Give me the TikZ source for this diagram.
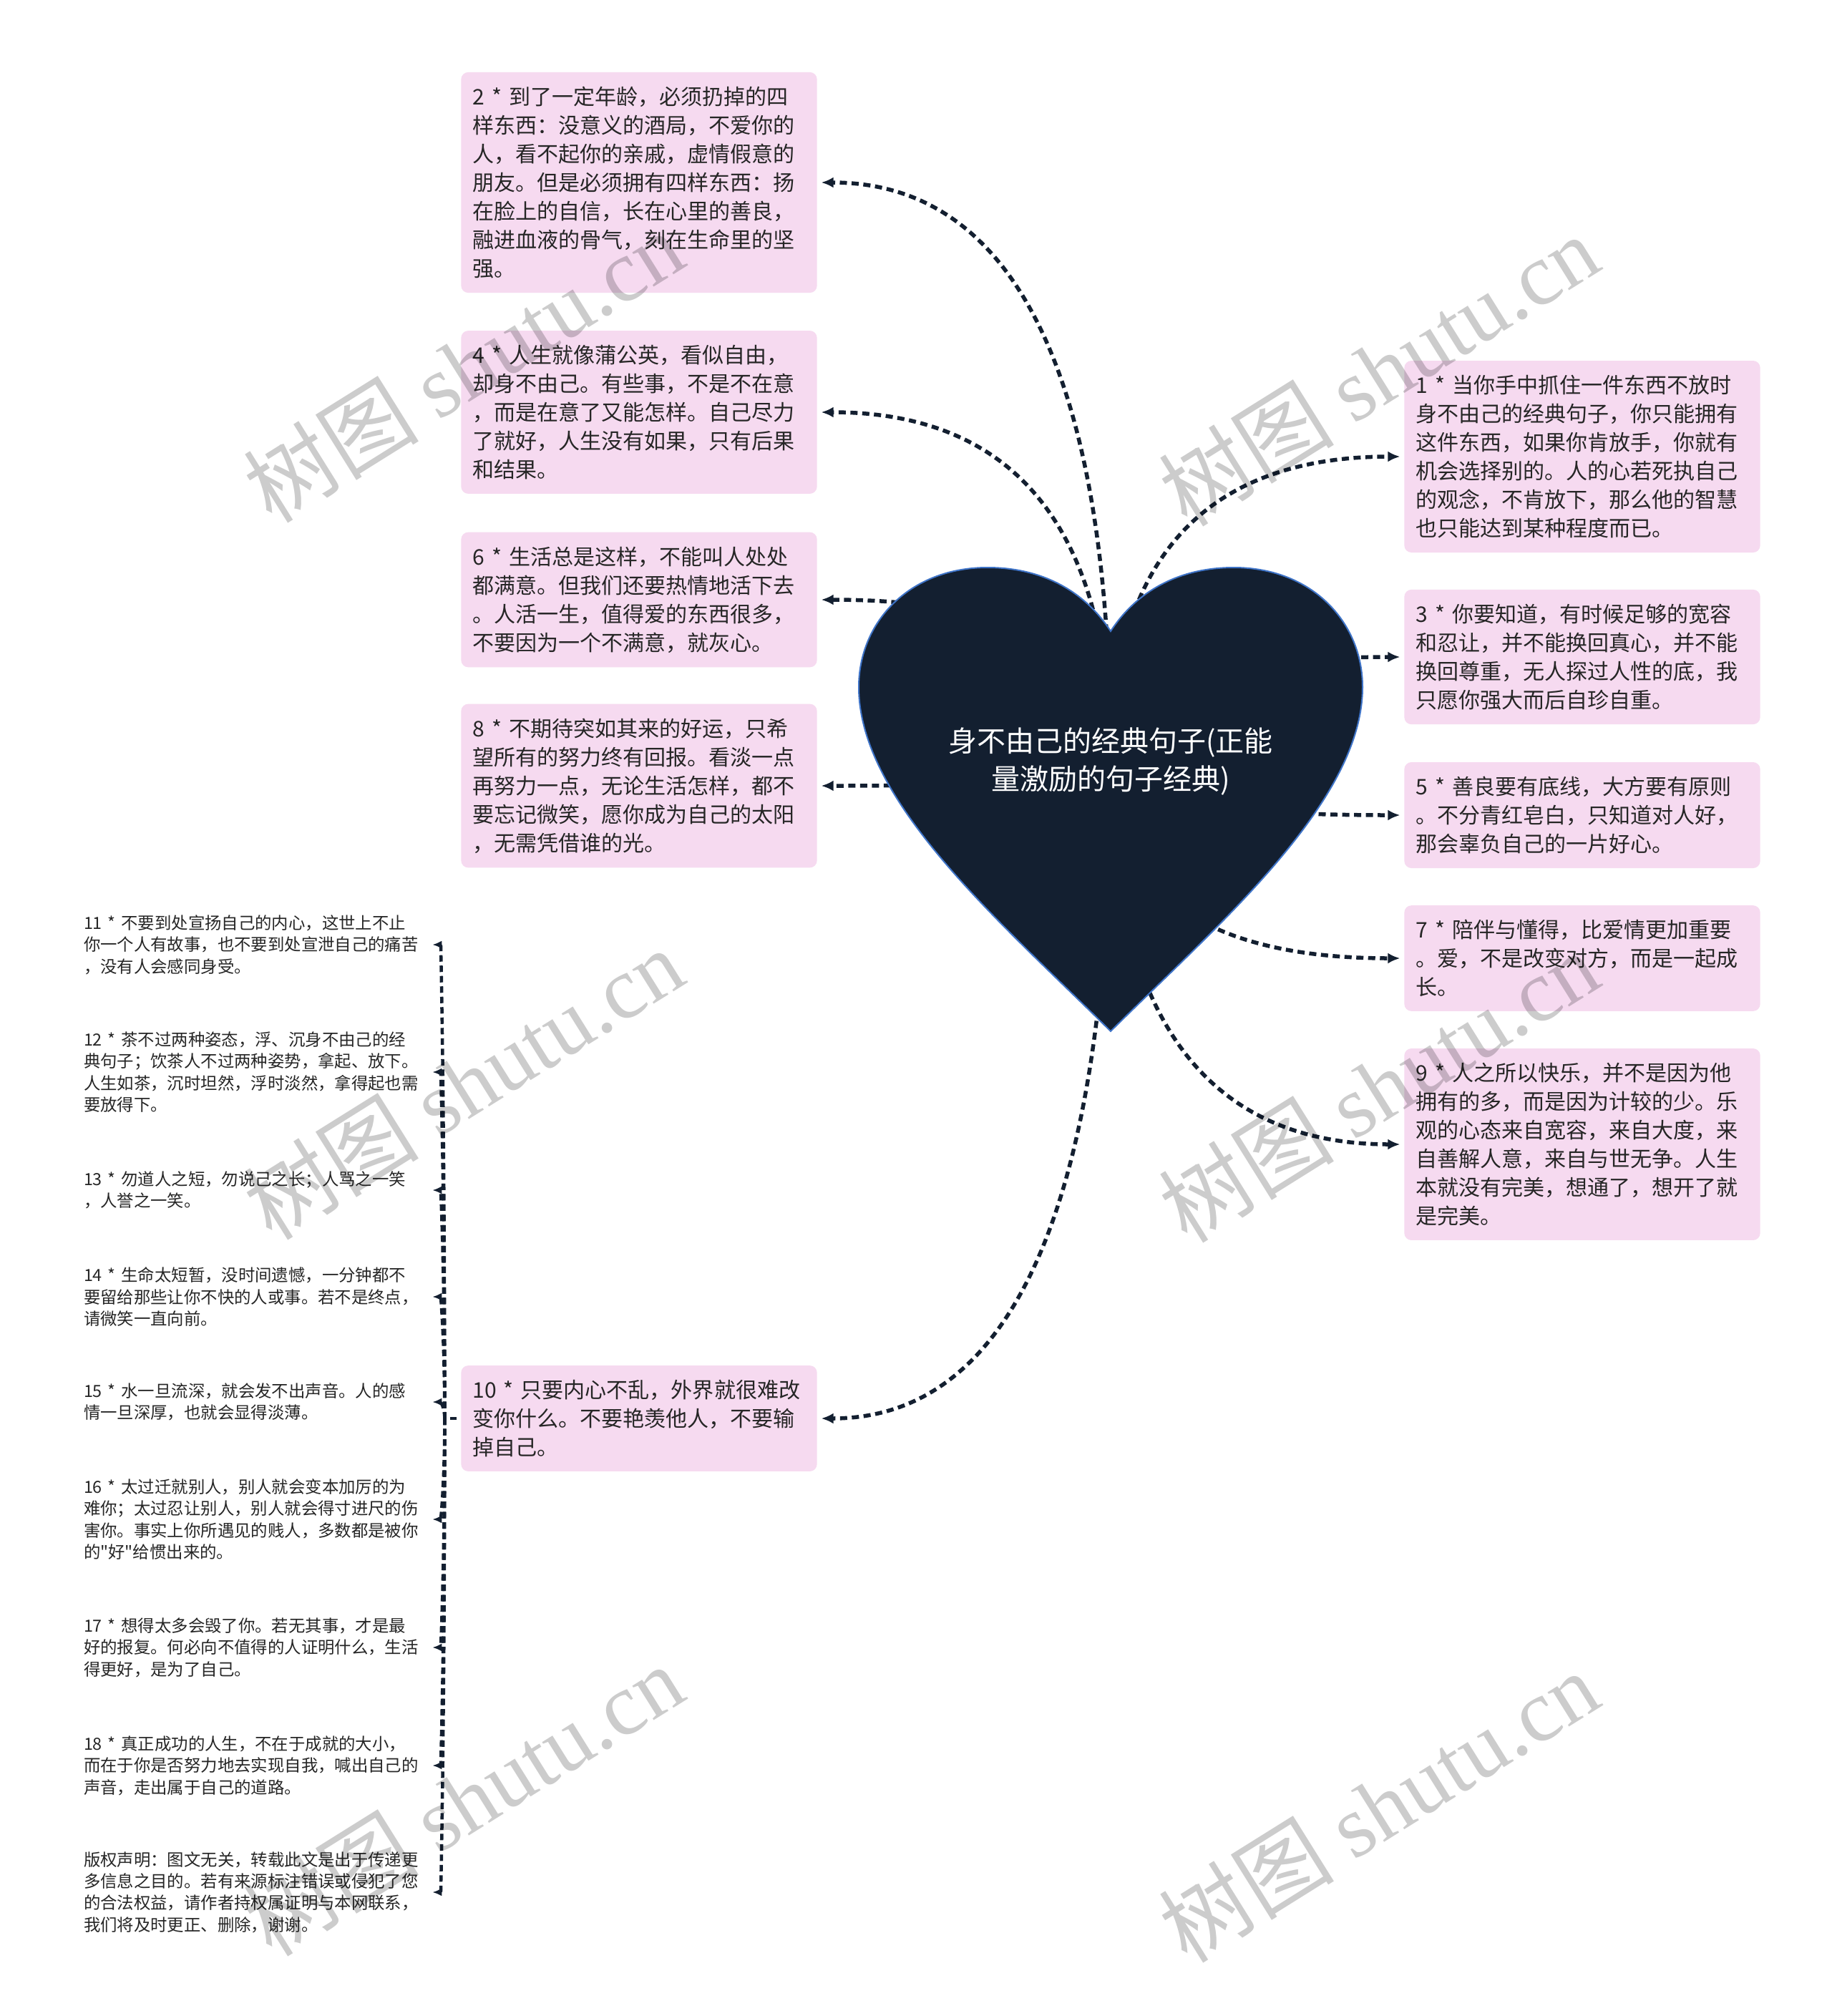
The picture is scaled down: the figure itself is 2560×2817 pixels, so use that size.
\documentclass[tikz,border=0pt]{standalone}
\usepackage{fontspec}
\setmainfont{Noto Sans CJK SC}[Ligatures=TeXOff]
\newfontfamily\wmserif{Liberation Serif}
\usepackage{xcolor}
\usepackage{tikz}
\usetikzlibrary{arrows.meta,backgrounds,calc,positioning}
\definecolor{ShuNavy}{HTML}{131F30}
\definecolor{ShuEdge}{HTML}{3F74C8}
\definecolor{ShuPink}{HTML}{F6DAF0}
\definecolor{ShuInk}{HTML}{262626}

\tikzset{
  quote/.style={fill=ShuPink,rounded corners=0.1cm,text=ShuInk,align=left,
    text width=4.65cm,inner xsep=0.16cm,inner ysep=0.2cm,outer sep=0.06cm,
    font=\fontsize{8.54pt}{11.38pt}\selectfont},
  note/.style={anchor=west,text=ShuInk,align=left,text width=4.75cm,
    inner xsep=0.06cm,inner ysep=0.05cm,outer sep=0.06cm,
    font=\fontsize{6.65pt}{8.65pt}\selectfont},
  link/.style={ShuNavy,line width=0.055cm,dash pattern=on 0.1cm off 0.065cm,
    -{Latex[length=0.17cm,width=0.15cm]}},
  twig/.style={ShuNavy,line width=0.045cm,dash pattern=on 0.09cm off 0.055cm,
    -{Latex[length=0.13cm,width=0.11cm]}},
  wmark/.style={rotate=32,text=black,text opacity=0.2,
    font=\fontsize{35pt}{40pt}\selectfont}
}

\begin{document}
\begin{tikzpicture}[x=0.01cm,y=-0.01cm]
\useasboundingbox (0,0) rectangle (2560,2817);

\node[quote] (b2) at (893,255) {2 * 到了一定年龄，必须扔掉的四\\样东西：没意义的酒局，不爱你的\\人，看不起你的亲戚，虚情假意的\\朋友。但是必须拥有四样东西：扬\\在脸上的自信，长在心里的善良，\\融进血液的骨气，刻在生命里的坚\\强。};
\node[quote] (b4) at (893,576) {4 * 人生就像蒲公英，看似自由，\\却身不由己。有些事，不是不在意\\，而是在意了又能怎样。自己尽力\\了就好，人生没有如果，只有后果\\和结果。};
\node[quote] (b6) at (893,838) {6 * 生活总是这样，不能叫人处处\\都满意。但我们还要热情地活下去\\。人活一生，值得爱的东西很多，\\不要因为一个不满意，就灰心。};
\node[quote] (b8) at (893,1098) {8 * 不期待突如其来的好运，只希\\望所有的努力终有回报。看淡一点\\再努力一点，无论生活怎样，都不\\要忘记微笑，愿你成为自己的太阳\\，无需凭借谁的光。};
\node[quote] (b10) at (893,1982) {10 * 只要内心不乱，外界就很难改\\变你什么。不要艳羡他人，不要输\\掉自己。};

\node[quote] (b1) at (2211,638) {1 * 当你手中抓住一件东西不放时\\身不由己的经典句子，你只能拥有\\这件东西，如果你肯放手，你就有\\机会选择别的。人的心若死执自己\\的观念，不肯放下，那么他的智慧\\也只能达到某种程度而已。};
\node[quote] (b3) at (2211,918) {3 * 你要知道，有时候足够的宽容\\和忍让，并不能换回真心，并不能\\换回尊重，无人探过人性的底，我\\只愿你强大而后自珍自重。};
\node[quote] (b5) at (2211,1139) {5 * 善良要有底线，大方要有原则\\。不分青红皂白，只知道对人好，\\那会辜负自己的一片好心。};
\node[quote] (b7) at (2211,1339) {7 * 陪伴与懂得，比爱情更加重要\\。爱，不是改变对方，而是一起成\\长。};
\node[quote] (b9) at (2211,1599) {9 * 人之所以快乐，并不是因为他\\拥有的多，而是因为计较的少。乐\\观的心态来自宽容，来自大度，来\\自善解人意，来自与世无争。人生\\本就没有完美，想通了，想开了就\\是完美。};

\node[note] (n11) at (105,1320) {11 * 不要到处宣扬自己的内心，这世上不止\\你一个人有故事，也不要到处宣泄自己的痛苦\\，没有人会感同身受。};
\node[note] (n12) at (105,1498) {12 * 茶不过两种姿态，浮、沉身不由己的经\\典句子；饮茶人不过两种姿势，拿起、放下。\\人生如茶，沉时坦然，浮时淡然，拿得起也需\\要放得下。};
\node[note] (n13) at (105,1663) {13 * 勿道人之短，勿说己之长；人骂之一笑\\，人誉之一笑。};
\node[note] (n14) at (105,1812) {14 * 生命太短暂，没时间遗憾，一分钟都不\\要留给那些让你不快的人或事。若不是终点，\\请微笑一直向前。};
\node[note] (n15) at (105,1959) {15 * 水一旦流深，就会发不出声音。人的感\\情一旦深厚，也就会显得淡薄。};
\node[note] (n16) at (105,2123) {16 * 太过迁就别人，别人就会变本加厉的为\\难你；太过忍让别人，别人就会得寸进尺的伤\\害你。事实上你所遇见的贱人，多数都是被你\\的"好"给惯出来的。};
\node[note] (n17) at (105,2302) {17 * 想得太多会毁了你。若无其事，才是最\\好的报复。何必向不值得的人证明什么，生活\\得更好，是为了自己。};
\node[note] (n18) at (105,2467) {18 * 真正成功的人生，不在于成就的大小，\\而在于你是否努力地去实现自我，喊出自己的\\声音，走出属于自己的道路。};
\node[note] (nc) at (105,2644) {版权声明：图文无关，转载此文是出于传递更\\多信息之目的。若有来源标注错误或侵犯了您\\的合法权益，请作者持权属证明与本网联系，\\我们将及时更正、删除，谢谢。};

\node[text=white,align=center,font=\fontsize{11.38pt}{14.8pt}\selectfont] (root) at (1552,1064) {身不由己的经典句子(正能\\量激励的句子经典)};

\begin{scope}[on background layer]
\fill[white] (0,0) rectangle (2560,2817);
\foreach \b/\side in {b2/east,b4/east,b6/east,b8/east,b10/east,b1/west,b3/west,b5/west,b7/west,b9/west}
  \draw[link] (root.center) .. controls ($(root.center)!.667!(root.center |- \b.\side)$)
    and ($(\b.\side)!.667!(root.center |- \b.\side)$) .. (\b.\side);
\coordinate (fork) at ($(b10.west)+(-17,0)$);
\draw[twig,-] (b10.west) -- (fork);
\foreach \n in {n11,n12,n13,n14,n15,n16,n17,n18,nc}
  \draw[twig] (fork) .. controls ($(fork)!.667!(fork |- \n.east)$)
    and ($(\n.east)!.667!(fork |- \n.east)$) .. (\n.east);
\path[fill=ShuNavy,draw=ShuEdge,line width=0.02cm]
  (1552,882) .. controls (1515,825) and (1455,793) .. (1380,793)
  .. controls (1270,793) and (1200,870) .. (1200,960)
  .. controls (1200,1120) and (1400,1290) .. (1552,1441)
  .. controls (1704,1290) and (1904,1120) .. (1904,960)
  .. controls (1904,870) and (1834,793) .. (1724,793)
  .. controls (1649,793) and (1589,825) .. (1552,882) -- cycle;
\end{scope}

\node[wmark] (wm1) at (647,512) {树图 {\wmserif shutu.cn}};
\node[wmark] (wm2) at (1926,517) {树图 {\wmserif shutu.cn}};
\node[wmark] (wm3) at (647,1514) {树图 {\wmserif shutu.cn}};
\node[wmark] (wm4) at (1926,1518) {树图 {\wmserif shutu.cn}};
\node[wmark] (wm5) at (647,2515) {树图 {\wmserif shutu.cn}};
\node[wmark] (wm6) at (1926,2524) {树图 {\wmserif shutu.cn}};
\end{tikzpicture}
\end{document}
